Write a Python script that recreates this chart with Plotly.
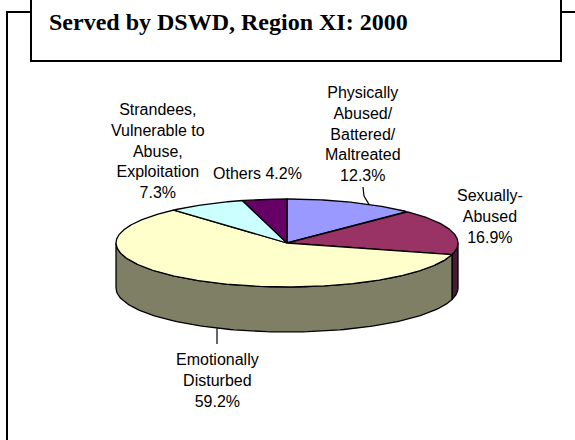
import numpy as np
import plotly.graph_objects as go

# ---- data ----
categories = [
    "Physically<br>Abused/<br>Battered/<br>Maltreated",
    "Sexually-<br>Abused",
    "Emotionally<br>Disturbed",
    "Strandees,<br>Vulnerable to<br>Abuse,<br>Exploitation",
    "Others",
]
values = [12.3, 16.9, 59.2, 7.3, 4.2]
title_text = "Served by DSWD, Region XI: 2000"

# ---- styling / layout (not data) ----
top_colors = ["#9999FF", "#993366", "#FFFFCC", "#CCFFFF", "#660066"]
side_colors = ["#4C4C7F", "#4C1933", "#7F7F66", "#667F7F", "#330033"]
label_sep = ["<br>", "<br>", "<br>", "<br>", " "]
label_pos = [(363, 134), (490, 216), (217, 380), (158, 151), (257, 173)]

W, H = 575, 440
CX, CY, RX, RY, DEPTH = 287.0, 243.0, 171.0, 44.0, 45.0


def ell(theta_deg, dy=0.0):
    t = np.radians(theta_deg)
    return CX + RX * np.sin(t), CY - RY * np.cos(t) + dy


vals = np.array(values, dtype=float)
cum = np.concatenate([[0.0], np.cumsum(vals) / vals.sum() * 360.0])

fig = go.Figure()

# side walls (front half of the disc, 90..270 deg measured clockwise from top)
for i in range(len(vals)):
    a, b = cum[i], cum[i + 1]
    lo, hi = max(a, 90.0), min(b, 270.0)
    if hi <= lo:
        continue
    th = np.linspace(lo, hi, 120)
    xt, yt = ell(th)
    xb, yb = ell(th[::-1], DEPTH)
    xs = np.concatenate([xt, xb, xt[:1]])
    ys = np.concatenate([yt, yb, yt[:1]])
    fig.add_trace(go.Scatter(x=xs, y=ys, mode="lines", fill="toself",
                             fillcolor=side_colors[i],
                             line=dict(color="black", width=1.3),
                             hoverinfo="skip", showlegend=False))

# top faces
for i in range(len(vals)):
    a, b = cum[i], cum[i + 1]
    th = np.linspace(a, b, max(int((b - a) * 2), 20))
    xt, yt = ell(th)
    xs = np.concatenate([[CX], xt, [CX]])
    ys = np.concatenate([[CY], yt, [CY]])
    fig.add_trace(go.Scatter(x=xs, y=ys, mode="lines", fill="toself",
                             fillcolor=top_colors[i],
                             line=dict(color="black", width=1.3),
                             hoverinfo="skip", showlegend=False))

# leader lines
px_, py_ = label_pos[0]
lx = px_ + 6
t_lead = np.degrees(np.arcsin((lx - CX) / RX))
_, ly = ell(t_lead)
fig.add_trace(go.Scatter(x=[px_, px_ + 1, lx], y=[py_ + 53, py_ + 62, ly],
                         mode="lines", line=dict(color="black", width=1.2),
                         hoverinfo="skip", showlegend=False))
ex, ey = label_pos[2]
t_e = 180.0 + np.degrees(np.arcsin((CX - ex) / RX))
_, ebot = ell(t_e, DEPTH)
fig.add_trace(go.Scatter(x=[ex, ex], y=[ebot, ey - 36], mode="lines",
                         line=dict(color="black", width=1.2),
                         hoverinfo="skip", showlegend=False))

# data labels
for i, (cat, v) in enumerate(zip(categories, values)):
    x, y = label_pos[i]
    fig.add_annotation(x=x, y=y, xref="x", yref="y",
                       text=f"{cat}{label_sep[i]}{v:.1f}%",
                       showarrow=False, xanchor="center", yanchor="middle",
                       align="center",
                       font=dict(family="Liberation Sans, Arial", size=16,
                                 color="black"))

# frame and title box
fig.add_shape(type="rect", xref="x", yref="y", x0=7, y0=12, x1=620, y1=520,
              line=dict(color="black", width=2), fillcolor="rgba(0,0,0,0)",
              layer="above")
fig.add_shape(type="rect", xref="x", yref="y", x0=31, y0=-20, x1=561, y1=61,
              line=dict(color="black", width=2), fillcolor="white",
              layer="above")
fig.add_annotation(x=47, y=22, xref="x", yref="y",
                   text=f"<b>{title_text}</b>", showarrow=False,
                   xanchor="left", yanchor="middle",
                   font=dict(family="Liberation Serif, Times New Roman",
                             size=24, color="black"))

fig.update_xaxes(range=[0, W], visible=False, fixedrange=True)
fig.update_yaxes(range=[H, 0], visible=False, fixedrange=True)
fig.update_layout(width=W, height=H, margin=dict(l=0, r=0, t=0, b=0),
                  paper_bgcolor="white", plot_bgcolor="white",
                  showlegend=False)

fig.write_html("out.html", config={"displayModeBar": False},
               post_script="document.body.style.margin='0';"
                           "document.body.style.overflow='hidden';")
